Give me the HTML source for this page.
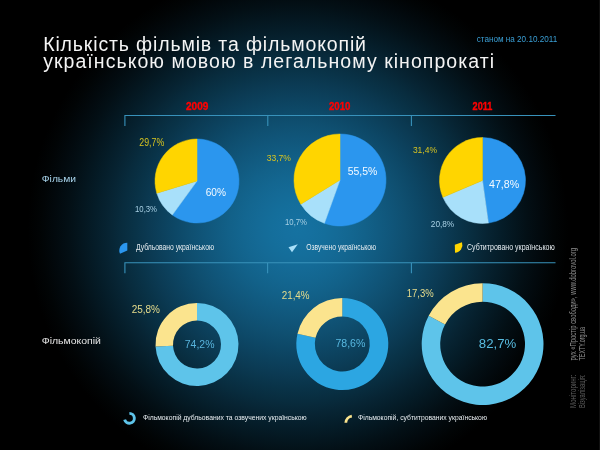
<!DOCTYPE html>
<html><head><meta charset="utf-8"><style>
html,body{margin:0;padding:0;background:#000;}
svg{display:block;font-family:"Liberation Sans",sans-serif;}
</style></head><body>
<svg width="600" height="450" viewBox="0 0 600 450">
<defs>
<radialGradient id="bg" gradientUnits="userSpaceOnUse" cx="297.79" cy="229.25" r="270.39" gradientTransform="translate(297.79,229.25) scale(1,0.9810) translate(-297.79,-229.25)">
<stop offset="0.00" stop-color="#1572a1"/>
<stop offset="0.05" stop-color="#15709f"/>
<stop offset="0.10" stop-color="#146e9b"/>
<stop offset="0.15" stop-color="#146a96"/>
<stop offset="0.20" stop-color="#136690"/>
<stop offset="0.25" stop-color="#126189"/>
<stop offset="0.30" stop-color="#115b81"/>
<stop offset="0.35" stop-color="#105579"/>
<stop offset="0.40" stop-color="#0f4f70"/>
<stop offset="0.45" stop-color="#0d4867"/>
<stop offset="0.50" stop-color="#0c415d"/>
<stop offset="0.55" stop-color="#0b3a53"/>
<stop offset="0.60" stop-color="#093348"/>
<stop offset="0.65" stop-color="#082c3e"/>
<stop offset="0.70" stop-color="#072433"/>
<stop offset="0.75" stop-color="#051d29"/>
<stop offset="0.80" stop-color="#04161f"/>
<stop offset="0.85" stop-color="#030f15"/>
<stop offset="0.90" stop-color="#02090d"/>
<stop offset="0.95" stop-color="#010405"/>
<stop offset="1.00" stop-color="#000000"/>
</radialGradient>
</defs>
<rect width="600" height="450" fill="url(#bg)"/>
<rect x="599" y="0" width="1" height="450" fill="#111111"/>

<g stroke="#3892bb" stroke-width="1.1" fill="none">
<path d="M124.9,126 V115.5 H555.5 M267.8,115.5 V126 M411.4,115.5 V126"/>
<path d="M124.9,273.2 V262.8 H555.5 M267.6,262.8 V273.2 M411.4,262.8 V273.2"/>
</g>
<path d="M197.00,181.00 L197.00,139.00 A42,42 0 1 1 172.31,214.98 Z" fill="#2b96ee" stroke="#2b96ee" stroke-width="0.5" stroke-linejoin="round"/><path d="M197.00,181.00 L172.31,214.98 A42,42 0 0 1 156.82,193.22 Z" fill="#a8e0fa" stroke="#a8e0fa" stroke-width="0.5" stroke-linejoin="round"/><path d="M197.00,181.00 L156.82,193.22 A42,42 0 0 1 197.00,139.00 Z" fill="#ffd500" stroke="#ffd500" stroke-width="0.5" stroke-linejoin="round"/><path d="M340.00,180.00 L340.00,134.00 A46,46 0 1 1 324.42,223.28 Z" fill="#2b96ee" stroke="#2b96ee" stroke-width="0.5" stroke-linejoin="round"/><path d="M340.00,180.00 L324.42,223.28 A46,46 0 0 1 300.85,204.16 Z" fill="#a8e0fa" stroke="#a8e0fa" stroke-width="0.5" stroke-linejoin="round"/><path d="M340.00,180.00 L300.85,204.16 A46,46 0 0 1 340.00,134.00 Z" fill="#ffd500" stroke="#ffd500" stroke-width="0.5" stroke-linejoin="round"/><path d="M482.50,180.50 L482.50,137.50 A43,43 0 0 1 488.42,223.09 Z" fill="#2b96ee" stroke="#2b96ee" stroke-width="0.5" stroke-linejoin="round"/><path d="M482.50,180.50 L488.42,223.09 A43,43 0 0 1 442.93,197.33 Z" fill="#a8e0fa" stroke="#a8e0fa" stroke-width="0.5" stroke-linejoin="round"/><path d="M482.50,180.50 L442.93,197.33 A43,43 0 0 1 482.50,137.50 Z" fill="#ffd500" stroke="#ffd500" stroke-width="0.5" stroke-linejoin="round"/><path d="M197.00,303.00 A41.5,41.5 0 1 1 155.55,346.59 L173.03,345.71 A24,24 0 1 0 197.00,320.50 Z" fill="#5ec4ea"/><path d="M155.55,346.59 A41.5,41.5 0 0 1 197.00,303.00 L197.00,320.50 A24,24 0 0 0 173.03,345.71 Z" fill="#fbe48e"/><path d="M342.30,298.00 A46,46 0 1 1 297.47,333.68 L315.50,337.83 A27.5,27.5 0 1 0 342.30,316.50 Z" fill="#2ca6e2"/><path d="M297.47,333.68 A46,46 0 0 1 342.30,298.00 L342.30,316.50 A27.5,27.5 0 0 0 315.50,337.83 Z" fill="#fbe48e"/><path d="M482.60,283.20 A60.9,60.9 0 1 1 428.69,315.77 L445.07,324.38 A42.4,42.4 0 1 0 482.60,301.70 Z" fill="#5ec4ea"/><path d="M428.69,315.77 A60.9,60.9 0 0 1 482.60,283.20 L482.60,301.70 A42.4,42.4 0 0 0 445.07,324.38 Z" fill="#fbe48e"/>
<path d="M127.3,242.7 L127.3,250.5 L120,253.8 A7.8,7.8 0 0 1 127.3,242.7 Z" fill="#2b96ee"/><path d="M288.5,247.3 L297.8,244.2 L292,252.3 Z" fill="#a8e0fa"/><path d="M454.8,244.8 L462,242.3 A8,8 0 0 1 455,252.8 Z" fill="#ffd500"/><path d="M129.40,411.90 A6.4,6.4 0 1 1 123.22,419.96 L126.02,419.21 A3.5,3.5 0 1 0 129.40,414.80 Z" fill="#5ec4ea"/><path d="M344.41,422.71 A8.4,8.4 0 0 1 351.63,414.68 L352.02,417.45 A5.6,5.6 0 0 0 347.20,422.80 Z" fill="#fbe48e"/>
<g style="will-change:transform"><text x="43.2" y="50.7" textLength="322.8" lengthAdjust="spacing" fill="#f4f4f4" font-size="19.5" font-weight="normal" >Кількість фільмів та фільмокопій</text><text x="43.2" y="68" textLength="450.8" lengthAdjust="spacing" fill="#f4f4f4" font-size="19.5" font-weight="normal" >українською мовою в легальному кінопрокаті</text><text x="476.7" y="42.2" textLength="80.5" lengthAdjust="spacingAndGlyphs" fill="#3a9fd5" font-size="8.7" font-weight="normal" >станом на 20.10.2011</text><text x="186" y="109.7" textLength="22.3" lengthAdjust="spacingAndGlyphs" fill="#ff0000" font-size="10" font-weight="bold" stroke="#ff0000" stroke-width="0.35">2009</text><text x="329" y="109.7" textLength="21.5" lengthAdjust="spacingAndGlyphs" fill="#ff0000" font-size="10" font-weight="bold" stroke="#ff0000" stroke-width="0.35">2010</text><text x="472.6" y="109.7" textLength="19.8" lengthAdjust="spacingAndGlyphs" fill="#ff0000" font-size="10" font-weight="bold" stroke="#ff0000" stroke-width="0.35">2011</text><text x="139.3" y="146" textLength="24.9" lengthAdjust="spacingAndGlyphs" fill="#d8c420" font-size="10.4" font-weight="normal" >29,7%</text><text x="135" y="212" textLength="22" lengthAdjust="spacingAndGlyphs" fill="#a8d0e4" font-size="8.5" font-weight="normal" >10,3%</text><text x="205.7" y="195.7" textLength="20.3" lengthAdjust="spacingAndGlyphs" fill="#f4faff" font-size="11.3" font-weight="normal" >60%</text><text x="266.7" y="161" textLength="24.3" lengthAdjust="spacingAndGlyphs" fill="#d8c420" font-size="9.9" font-weight="normal" >33,7%</text><text x="347.7" y="175" textLength="29.6" lengthAdjust="spacingAndGlyphs" fill="#f4faff" font-size="11.3" font-weight="normal" >55,5%</text><text x="285" y="225.4" textLength="22" lengthAdjust="spacingAndGlyphs" fill="#a8d0e4" font-size="8.5" font-weight="normal" >10,7%</text><text x="412.9" y="153" textLength="24.1" lengthAdjust="spacingAndGlyphs" fill="#d8c420" font-size="9.9" font-weight="normal" >31,4%</text><text x="489" y="187.7" textLength="30.2" lengthAdjust="spacingAndGlyphs" fill="#f4faff" font-size="11.3" font-weight="normal" >47,8%</text><text x="430.8" y="227" textLength="23.4" lengthAdjust="spacingAndGlyphs" fill="#a8d0e4" font-size="8.7" font-weight="normal" >20,8%</text><text x="131.7" y="313" textLength="28.3" lengthAdjust="spacingAndGlyphs" fill="#e6dc8c" font-size="11" font-weight="normal" >25,8%</text><text x="184.8" y="347.8" textLength="29.7" lengthAdjust="spacingAndGlyphs" fill="#58b4dc" font-size="11.5" font-weight="normal" >74,2%</text><text x="281.7" y="299.2" textLength="27.9" lengthAdjust="spacingAndGlyphs" fill="#e6dc8c" font-size="10.8" font-weight="normal" >21,4%</text><text x="335.4" y="346.7" textLength="30" lengthAdjust="spacingAndGlyphs" fill="#58b8e0" font-size="11.3" font-weight="normal" >78,6%</text><text x="406.7" y="297.4" textLength="27" lengthAdjust="spacingAndGlyphs" fill="#e6dc8c" font-size="10.5" font-weight="normal" >17,3%</text><text x="478.8" y="347.8" textLength="37.4" lengthAdjust="spacingAndGlyphs" fill="#58bce0" font-size="13.7" font-weight="normal" >82,7%</text><text x="41.8" y="181.8" textLength="34.2" lengthAdjust="spacingAndGlyphs" fill="#a8d4ec" font-size="9" font-weight="normal" >Фільми</text><text x="41.7" y="344" textLength="59.3" lengthAdjust="spacingAndGlyphs" fill="#e4e4e4" font-size="9.3" font-weight="normal" >Фільмокопій</text><text x="136" y="250.3" textLength="78" lengthAdjust="spacingAndGlyphs" fill="#e8eef2" font-size="8.2" font-weight="normal" >Дубльовано українською</text><text x="306.25" y="250.2" textLength="69.75" lengthAdjust="spacingAndGlyphs" fill="#e8eef2" font-size="8.2" font-weight="normal" >Озвучено українською</text><text x="467" y="249.8" textLength="87.7" lengthAdjust="spacingAndGlyphs" fill="#e8eef2" font-size="8.2" font-weight="normal" >Субтитровано українською</text><text x="143" y="420.3" textLength="163.7" lengthAdjust="spacingAndGlyphs" fill="#e8eef2" font-size="7.2" font-weight="normal" >Фільмокопій дубльованих та озвучених українською</text><text x="358" y="420.3" textLength="129" lengthAdjust="spacingAndGlyphs" fill="#e8eef2" font-size="7.2" font-weight="normal" >Фільмокопій, субтитрованих українською</text></g>

<g font-size="8.6">
<g transform="translate(575.6,408) rotate(-90)"><text x="0" y="0" textLength="33.5" lengthAdjust="spacingAndGlyphs" fill="#5e5e5e">Моніторинг:</text></g>
<g transform="translate(575.6,360.5) rotate(-90)"><text x="0" y="0" textLength="112.5" lengthAdjust="spacingAndGlyphs" fill="#909090">рух «Простір свободи», www.dobrovol.org</text></g>
<g transform="translate(584.6,408) rotate(-90)"><text x="0" y="0" textLength="33.5" lengthAdjust="spacingAndGlyphs" fill="#5e5e5e">Візуалізація:</text></g>
<g transform="translate(584.6,360.5) rotate(-90)"><text x="0" y="0" textLength="33.5" lengthAdjust="spacingAndGlyphs" fill="#909090">TEXTY.org.ua</text></g>
</g>
</svg>
</body></html>
